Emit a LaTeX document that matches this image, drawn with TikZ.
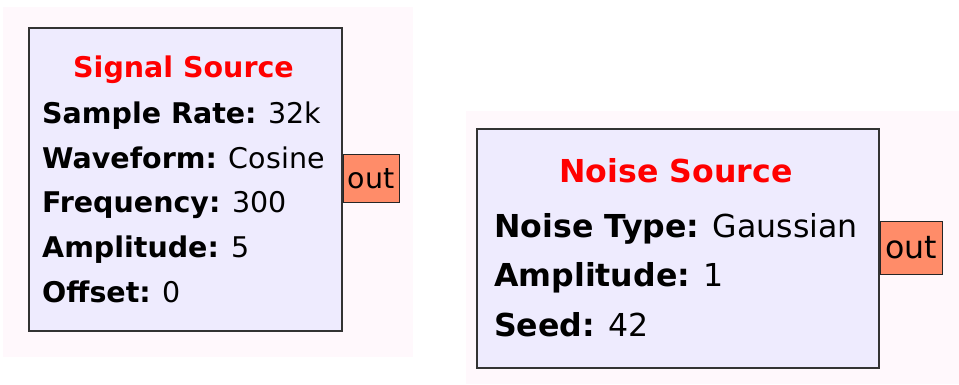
\documentclass[tikz,border=0pt]{standalone}
\usepackage{fontspec}
\setmainfont{DejaVu Sans}
\usetikzlibrary{calc, positioning}
\definecolor{grcpane} {RGB}{255,248,252}
\definecolor{grcblock}{RGB}{238,235,254}
\definecolor{grcport} {RGB}{255,140,105}
\definecolor{grctitle}{RGB}{255,  0,  0}
\newcommand{\fsig}{\fontsize{28.5}{35}\selectfont}
\newcommand{\fnoise}{\fontsize{31.6}{38}\selectfont}

\begin{document}
\begin{tikzpicture}[x=1pt, y=-1pt,
  pane/.style={rectangle, fill=grcpane, draw=none, inner sep=0pt,
    anchor=north west},
  blk/.style={rectangle, fill=grcblock, draw=black!80, line width=1.7pt,
    inner sep=0pt, anchor=north west},
  port/.style={rectangle, fill=grcport, draw=black!85, line width=1.2pt,
    inner sep=0pt, anchor=north west},
  ttl/.style={anchor=base, text=grctitle},
  prm/.style={anchor=base west, inner sep=0pt},
]
\useasboundingbox (0,0) rectangle (959,384);
%% Background panes
\node[pane, minimum width=410pt, minimum height=350pt] (sigbg)   at (3,7)     {};
\node[pane, minimum width=493pt, minimum height=273pt] (noisebg) at (466,111) {};
%% Signal Source block
\begin{scope}[font=\fsig]
\node[blk, minimum width=313pt, minimum height=303pt] (sig) at (28,27) {};
\node[ttl] (sigtitle) at (183.5,77) {\textbf{Signal Source}};
\node[prm] (sigrate) at (42,123) {\textbf{Sample Rate:} 32k};
\node[prm] (sigwave) at (42,168) {\textbf{Waveform:} Cosine};
\node[prm] (sigfreq) at (42,212) {\textbf{Frequency:} 300};
\node[prm] (sigamp)  at (42,257) {\textbf{Amplitude:} 5};
\node[prm] (sigoff)  at (42,302) {\textbf{Offset:} 0};
\node[port, minimum width=56pt, minimum height=48pt]
  (sigout) at ($(sig.north east)+(0,127)$) {out};
\end{scope}
%% Noise Source block
\begin{scope}[font=\fnoise]
\node[blk, minimum width=402pt, minimum height=239pt] (noise) at (476,128) {};
\node[ttl] (noisetitle) at (676,182) {\textbf{Noise Source}};
\node[prm] (noisetype) at (494,237) {\textbf{Noise Type:} Gaussian};
\node[prm] (noiseamp)  at (494,286) {\textbf{Amplitude:} 1};
\node[prm] (noiseseed) at (494,336) {\textbf{Seed:} 42};
\node[port, minimum width=62pt, minimum height=53pt]
  (noiseout) at ($(noise.north east)+(0,93)$) {out};
\end{scope}
\end{tikzpicture}
\end{document}
